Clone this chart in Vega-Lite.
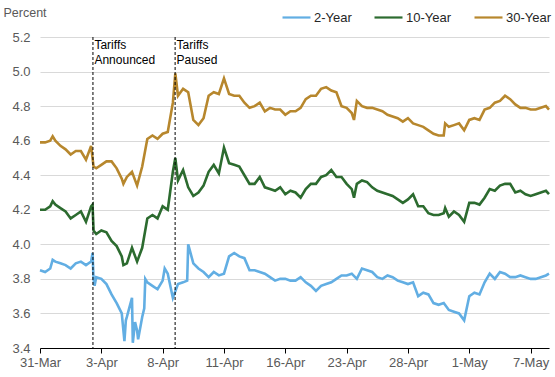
{
  "$schema": "https://vega.github.io/schema/vega-lite/v6.json",
  "width": 509,
  "height": 311,
  "autosize": {"type": "none"},
  "padding": {"left": 40, "top": 37, "right": 6, "bottom": 29},
  "config": {
    "font": "Liberation Sans",
    "view": {"stroke": null}
  },
  "resolve": {"axis": {"x": "independent", "y": "independent"}},
  "layer": [
    {
      "data": {"values": [
        {"s":"2-Year","t":0,"v":3.85},{"s":"2-Year","t":0.25,"v":3.84},{"s":"2-Year","t":0.5,"v":3.86},{"s":"2-Year","t":0.62,"v":3.91},{"s":"2-Year","t":0.75,"v":3.90},{"s":"2-Year","t":1,"v":3.89},{"s":"2-Year","t":1.25,"v":3.88},{"s":"2-Year","t":1.5,"v":3.86},{"s":"2-Year","t":1.75,"v":3.89},{"s":"2-Year","t":2,"v":3.90},{"s":"2-Year","t":2.25,"v":3.88},{"s":"2-Year","t":2.5,"v":3.90},{"s":"2-Year","t":2.57,"v":3.95},{"s":"2-Year","t":2.62,"v":3.80},{"s":"2-Year","t":2.67,"v":3.76},{"s":"2-Year","t":2.75,"v":3.81},{"s":"2-Year","t":3,"v":3.80},{"s":"2-Year","t":3.25,"v":3.77},{"s":"2-Year","t":3.5,"v":3.71},{"s":"2-Year","t":3.75,"v":3.66},{"s":"2-Year","t":4,"v":3.60},{"s":"2-Year","t":4.13,"v":3.44},{"s":"2-Year","t":4.2,"v":3.56},{"s":"2-Year","t":4.25,"v":3.58},{"s":"2-Year","t":4.5,"v":3.69},{"s":"2-Year","t":4.54,"v":3.43},{"s":"2-Year","t":4.65,"v":3.55},{"s":"2-Year","t":4.75,"v":3.50},{"s":"2-Year","t":4.8,"v":3.45},{"s":"2-Year","t":5,"v":3.58},{"s":"2-Year","t":5.1,"v":3.63},{"s":"2-Year","t":5.15,"v":3.80},{"s":"2-Year","t":5.25,"v":3.78},{"s":"2-Year","t":5.5,"v":3.76},{"s":"2-Year","t":5.75,"v":3.74},{"s":"2-Year","t":6,"v":3.79},{"s":"2-Year","t":6.1,"v":3.86},{"s":"2-Year","t":6.25,"v":3.83},{"s":"2-Year","t":6.5,"v":3.69},{"s":"2-Year","t":6.75,"v":3.77},{"s":"2-Year","t":7,"v":3.78},{"s":"2-Year","t":7.2,"v":3.79},{"s":"2-Year","t":7.25,"v":4.00},{"s":"2-Year","t":7.5,"v":3.89},{"s":"2-Year","t":7.75,"v":3.86},{"s":"2-Year","t":8,"v":3.84},{"s":"2-Year","t":8.25,"v":3.81},{"s":"2-Year","t":8.5,"v":3.84},{"s":"2-Year","t":8.75,"v":3.82},{"s":"2-Year","t":9,"v":3.83},{"s":"2-Year","t":9.25,"v":3.93},{"s":"2-Year","t":9.5,"v":3.95},{"s":"2-Year","t":9.75,"v":3.93},{"s":"2-Year","t":10,"v":3.92},{"s":"2-Year","t":10.25,"v":3.85},{"s":"2-Year","t":10.5,"v":3.85},{"s":"2-Year","t":10.75,"v":3.84},{"s":"2-Year","t":11,"v":3.83},{"s":"2-Year","t":11.25,"v":3.81},{"s":"2-Year","t":11.5,"v":3.79},{"s":"2-Year","t":11.75,"v":3.80},{"s":"2-Year","t":12,"v":3.80},{"s":"2-Year","t":12.25,"v":3.79},{"s":"2-Year","t":12.5,"v":3.79},{"s":"2-Year","t":12.75,"v":3.81},{"s":"2-Year","t":13,"v":3.78},{"s":"2-Year","t":13.25,"v":3.76},{"s":"2-Year","t":13.5,"v":3.73},{"s":"2-Year","t":13.75,"v":3.76},{"s":"2-Year","t":14,"v":3.77},{"s":"2-Year","t":14.25,"v":3.78},{"s":"2-Year","t":14.5,"v":3.80},{"s":"2-Year","t":14.75,"v":3.82},{"s":"2-Year","t":15,"v":3.82},{"s":"2-Year","t":15.25,"v":3.83},{"s":"2-Year","t":15.5,"v":3.80},{"s":"2-Year","t":15.75,"v":3.86},{"s":"2-Year","t":16,"v":3.85},{"s":"2-Year","t":16.25,"v":3.84},{"s":"2-Year","t":16.5,"v":3.81},{"s":"2-Year","t":16.75,"v":3.80},{"s":"2-Year","t":17,"v":3.82},{"s":"2-Year","t":17.25,"v":3.81},{"s":"2-Year","t":17.5,"v":3.79},{"s":"2-Year","t":17.75,"v":3.78},{"s":"2-Year","t":18,"v":3.77},{"s":"2-Year","t":18.25,"v":3.78},{"s":"2-Year","t":18.5,"v":3.70},{"s":"2-Year","t":18.75,"v":3.72},{"s":"2-Year","t":19,"v":3.71},{"s":"2-Year","t":19.25,"v":3.66},{"s":"2-Year","t":19.5,"v":3.65},{"s":"2-Year","t":19.75,"v":3.66},{"s":"2-Year","t":20,"v":3.62},{"s":"2-Year","t":20.25,"v":3.61},{"s":"2-Year","t":20.5,"v":3.60},{"s":"2-Year","t":20.75,"v":3.56},{"s":"2-Year","t":21,"v":3.70},{"s":"2-Year","t":21.25,"v":3.72},{"s":"2-Year","t":21.5,"v":3.71},{"s":"2-Year","t":21.75,"v":3.78},{"s":"2-Year","t":22,"v":3.83},{"s":"2-Year","t":22.25,"v":3.80},{"s":"2-Year","t":22.5,"v":3.84},{"s":"2-Year","t":22.75,"v":3.83},{"s":"2-Year","t":23,"v":3.81},{"s":"2-Year","t":23.25,"v":3.81},{"s":"2-Year","t":23.5,"v":3.82},{"s":"2-Year","t":23.75,"v":3.81},{"s":"2-Year","t":24,"v":3.80},{"s":"2-Year","t":24.25,"v":3.80},{"s":"2-Year","t":24.5,"v":3.81},{"s":"2-Year","t":24.75,"v":3.82},{"s":"2-Year","t":24.9,"v":3.83},

        {"s":"10-Year","t":0,"v":4.20},{"s":"10-Year","t":0.25,"v":4.20},{"s":"10-Year","t":0.5,"v":4.22},{"s":"10-Year","t":0.62,"v":4.25},{"s":"10-Year","t":0.75,"v":4.23},{"s":"10-Year","t":1,"v":4.21},{"s":"10-Year","t":1.25,"v":4.19},{"s":"10-Year","t":1.5,"v":4.15},{"s":"10-Year","t":1.75,"v":4.17},{"s":"10-Year","t":2,"v":4.19},{"s":"10-Year","t":2.25,"v":4.13},{"s":"10-Year","t":2.5,"v":4.22},{"s":"10-Year","t":2.57,"v":4.23},{"s":"10-Year","t":2.62,"v":4.08},{"s":"10-Year","t":2.75,"v":4.06},{"s":"10-Year","t":3,"v":4.08},{"s":"10-Year","t":3.25,"v":4.07},{"s":"10-Year","t":3.5,"v":4.02},{"s":"10-Year","t":3.75,"v":3.99},{"s":"10-Year","t":4,"v":3.93},{"s":"10-Year","t":4.08,"v":3.88},{"s":"10-Year","t":4.25,"v":3.89},{"s":"10-Year","t":4.5,"v":3.98},{"s":"10-Year","t":4.75,"v":3.90},{"s":"10-Year","t":5,"v":3.98},{"s":"10-Year","t":5.25,"v":4.15},{"s":"10-Year","t":5.5,"v":4.17},{"s":"10-Year","t":5.75,"v":4.15},{"s":"10-Year","t":6,"v":4.22},{"s":"10-Year","t":6.25,"v":4.20},{"s":"10-Year","t":6.5,"v":4.42},{"s":"10-Year","t":6.62,"v":4.50},{"s":"10-Year","t":6.75,"v":4.37},{"s":"10-Year","t":7,"v":4.43},{"s":"10-Year","t":7.25,"v":4.33},{"s":"10-Year","t":7.5,"v":4.28},{"s":"10-Year","t":7.75,"v":4.30},{"s":"10-Year","t":8,"v":4.34},{"s":"10-Year","t":8.25,"v":4.42},{"s":"10-Year","t":8.5,"v":4.46},{"s":"10-Year","t":8.75,"v":4.41},{"s":"10-Year","t":9,"v":4.56},{"s":"10-Year","t":9.25,"v":4.47},{"s":"10-Year","t":9.5,"v":4.46},{"s":"10-Year","t":9.75,"v":4.45},{"s":"10-Year","t":10,"v":4.40},{"s":"10-Year","t":10.25,"v":4.35},{"s":"10-Year","t":10.5,"v":4.35},{"s":"10-Year","t":10.75,"v":4.39},{"s":"10-Year","t":11,"v":4.33},{"s":"10-Year","t":11.25,"v":4.32},{"s":"10-Year","t":11.5,"v":4.31},{"s":"10-Year","t":11.75,"v":4.33},{"s":"10-Year","t":12,"v":4.29},{"s":"10-Year","t":12.25,"v":4.31},{"s":"10-Year","t":12.5,"v":4.30},{"s":"10-Year","t":12.75,"v":4.27},{"s":"10-Year","t":13,"v":4.32},{"s":"10-Year","t":13.25,"v":4.35},{"s":"10-Year","t":13.5,"v":4.35},{"s":"10-Year","t":13.75,"v":4.39},{"s":"10-Year","t":14,"v":4.40},{"s":"10-Year","t":14.25,"v":4.43},{"s":"10-Year","t":14.5,"v":4.39},{"s":"10-Year","t":14.75,"v":4.39},{"s":"10-Year","t":15,"v":4.35},{"s":"10-Year","t":15.25,"v":4.32},{"s":"10-Year","t":15.36,"v":4.27},{"s":"10-Year","t":15.5,"v":4.35},{"s":"10-Year","t":15.75,"v":4.37},{"s":"10-Year","t":16,"v":4.36},{"s":"10-Year","t":16.25,"v":4.33},{"s":"10-Year","t":16.5,"v":4.31},{"s":"10-Year","t":16.75,"v":4.30},{"s":"10-Year","t":17,"v":4.29},{"s":"10-Year","t":17.25,"v":4.28},{"s":"10-Year","t":17.5,"v":4.26},{"s":"10-Year","t":17.75,"v":4.24},{"s":"10-Year","t":18,"v":4.26},{"s":"10-Year","t":18.25,"v":4.29},{"s":"10-Year","t":18.5,"v":4.22},{"s":"10-Year","t":18.75,"v":4.22},{"s":"10-Year","t":19,"v":4.18},{"s":"10-Year","t":19.25,"v":4.17},{"s":"10-Year","t":19.5,"v":4.17},{"s":"10-Year","t":19.75,"v":4.18},{"s":"10-Year","t":19.82,"v":4.21},{"s":"10-Year","t":20,"v":4.16},{"s":"10-Year","t":20.25,"v":4.19},{"s":"10-Year","t":20.5,"v":4.17},{"s":"10-Year","t":20.75,"v":4.13},{"s":"10-Year","t":21,"v":4.24},{"s":"10-Year","t":21.25,"v":4.24},{"s":"10-Year","t":21.5,"v":4.23},{"s":"10-Year","t":21.75,"v":4.27},{"s":"10-Year","t":22,"v":4.32},{"s":"10-Year","t":22.25,"v":4.31},{"s":"10-Year","t":22.5,"v":4.34},{"s":"10-Year","t":22.75,"v":4.35},{"s":"10-Year","t":23,"v":4.35},{"s":"10-Year","t":23.25,"v":4.30},{"s":"10-Year","t":23.5,"v":4.31},{"s":"10-Year","t":23.75,"v":4.29},{"s":"10-Year","t":24,"v":4.28},{"s":"10-Year","t":24.25,"v":4.29},{"s":"10-Year","t":24.5,"v":4.30},{"s":"10-Year","t":24.75,"v":4.31},{"s":"10-Year","t":24.9,"v":4.29},

        {"s":"30-Year","t":0,"v":4.59},{"s":"30-Year","t":0.25,"v":4.59},{"s":"30-Year","t":0.5,"v":4.60},{"s":"30-Year","t":0.62,"v":4.625},{"s":"30-Year","t":0.75,"v":4.60},{"s":"30-Year","t":1,"v":4.57},{"s":"30-Year","t":1.25,"v":4.55},{"s":"30-Year","t":1.5,"v":4.52},{"s":"30-Year","t":1.75,"v":4.54},{"s":"30-Year","t":2,"v":4.54},{"s":"30-Year","t":2.25,"v":4.49},{"s":"30-Year","t":2.5,"v":4.57},{"s":"30-Year","t":2.62,"v":4.45},{"s":"30-Year","t":2.75,"v":4.44},{"s":"30-Year","t":3,"v":4.46},{"s":"30-Year","t":3.25,"v":4.48},{"s":"30-Year","t":3.5,"v":4.48},{"s":"30-Year","t":3.75,"v":4.44},{"s":"30-Year","t":4,"v":4.38},{"s":"30-Year","t":4.08,"v":4.35},{"s":"30-Year","t":4.25,"v":4.39},{"s":"30-Year","t":4.5,"v":4.42},{"s":"30-Year","t":4.75,"v":4.34},{"s":"30-Year","t":5,"v":4.45},{"s":"30-Year","t":5.25,"v":4.61},{"s":"30-Year","t":5.5,"v":4.63},{"s":"30-Year","t":5.75,"v":4.61},{"s":"30-Year","t":6,"v":4.64},{"s":"30-Year","t":6.25,"v":4.65},{"s":"30-Year","t":6.5,"v":4.82},{"s":"30-Year","t":6.62,"v":4.99},{"s":"30-Year","t":6.75,"v":4.86},{"s":"30-Year","t":7,"v":4.90},{"s":"30-Year","t":7.25,"v":4.88},{"s":"30-Year","t":7.5,"v":4.72},{"s":"30-Year","t":7.75,"v":4.69},{"s":"30-Year","t":8,"v":4.73},{"s":"30-Year","t":8.25,"v":4.86},{"s":"30-Year","t":8.5,"v":4.88},{"s":"30-Year","t":8.75,"v":4.87},{"s":"30-Year","t":9,"v":4.96},{"s":"30-Year","t":9.25,"v":4.87},{"s":"30-Year","t":9.5,"v":4.86},{"s":"30-Year","t":9.75,"v":4.86},{"s":"30-Year","t":10,"v":4.82},{"s":"30-Year","t":10.25,"v":4.79},{"s":"30-Year","t":10.5,"v":4.80},{"s":"30-Year","t":10.75,"v":4.82},{"s":"30-Year","t":11,"v":4.77},{"s":"30-Year","t":11.25,"v":4.79},{"s":"30-Year","t":11.5,"v":4.78},{"s":"30-Year","t":11.75,"v":4.78},{"s":"30-Year","t":12,"v":4.75},{"s":"30-Year","t":12.25,"v":4.77},{"s":"30-Year","t":12.5,"v":4.77},{"s":"30-Year","t":12.75,"v":4.79},{"s":"30-Year","t":13,"v":4.84},{"s":"30-Year","t":13.25,"v":4.86},{"s":"30-Year","t":13.5,"v":4.86},{"s":"30-Year","t":13.75,"v":4.90},{"s":"30-Year","t":14,"v":4.91},{"s":"30-Year","t":14.25,"v":4.89},{"s":"30-Year","t":14.5,"v":4.88},{"s":"30-Year","t":14.75,"v":4.80},{"s":"30-Year","t":15,"v":4.79},{"s":"30-Year","t":15.25,"v":4.76},{"s":"30-Year","t":15.36,"v":4.72},{"s":"30-Year","t":15.5,"v":4.83},{"s":"30-Year","t":15.75,"v":4.80},{"s":"30-Year","t":16,"v":4.79},{"s":"30-Year","t":16.25,"v":4.79},{"s":"30-Year","t":16.5,"v":4.78},{"s":"30-Year","t":16.75,"v":4.77},{"s":"30-Year","t":17,"v":4.75},{"s":"30-Year","t":17.25,"v":4.74},{"s":"30-Year","t":17.5,"v":4.73},{"s":"30-Year","t":17.75,"v":4.71},{"s":"30-Year","t":18,"v":4.73},{"s":"30-Year","t":18.25,"v":4.70},{"s":"30-Year","t":18.5,"v":4.69},{"s":"30-Year","t":18.75,"v":4.68},{"s":"30-Year","t":19,"v":4.66},{"s":"30-Year","t":19.25,"v":4.64},{"s":"30-Year","t":19.5,"v":4.63},{"s":"30-Year","t":19.75,"v":4.63},{"s":"30-Year","t":19.82,"v":4.70},{"s":"30-Year","t":20,"v":4.68},{"s":"30-Year","t":20.25,"v":4.69},{"s":"30-Year","t":20.5,"v":4.70},{"s":"30-Year","t":20.75,"v":4.66},{"s":"30-Year","t":21,"v":4.72},{"s":"30-Year","t":21.25,"v":4.73},{"s":"30-Year","t":21.5,"v":4.72},{"s":"30-Year","t":21.75,"v":4.78},{"s":"30-Year","t":22,"v":4.79},{"s":"30-Year","t":22.25,"v":4.82},{"s":"30-Year","t":22.5,"v":4.83},{"s":"30-Year","t":22.75,"v":4.86},{"s":"30-Year","t":23,"v":4.84},{"s":"30-Year","t":23.25,"v":4.81},{"s":"30-Year","t":23.5,"v":4.79},{"s":"30-Year","t":23.75,"v":4.79},{"s":"30-Year","t":24,"v":4.78},{"s":"30-Year","t":24.25,"v":4.78},{"s":"30-Year","t":24.5,"v":4.79},{"s":"30-Year","t":24.75,"v":4.80},{"s":"30-Year","t":24.9,"v":4.78}
      ]},
      "mark": {"type": "line", "strokeWidth": 2.6},
      "encoding": {
        "x": {
          "field": "t", "type": "quantitative",
          "scale": {"domain": [0, 24.9], "nice": false, "zero": false},
          "axis": {
            "title": null,
            "values": [0, 3, 6, 9, 12, 15, 18, 21, 24],
            "labelExpr": "['31-Mar','3-Apr','8-Apr','11-Apr','16-Apr','23-Apr','28-Apr','1-May','7-May'][round(datum.value/3)]",
            "grid": false,
            "domainColor": "#000000",
            "tickColor": "#000000",
            "tickSize": 5,
            "labelColor": "#595959",
            "labelFontSize": 13,
            "labelPadding": 3,
            "labelFlush": false,
            "labelOverlap": false
          }
        },
        "y": {
          "field": "v", "type": "quantitative",
          "scale": {"domain": [3.4, 5.2], "nice": false, "zero": false},
          "axis": {
            "title": "Percent",
            "titleAngle": 0,
            "titleX": -37,
            "titleY": -25,
            "titleAlign": "left",
            "titleBaseline": "middle",
            "titleFontWeight": "normal",
            "titleFontSize": 12.5,
            "titleColor": "#595959",
            "values": [3.4, 3.6, 3.8, 4.0, 4.2, 4.4, 4.6, 4.8, 5.0, 5.2],
            "format": ".1f",
            "domain": false,
            "ticks": false,
            "grid": true,
            "gridColor": "#d9d9d9",
            "labelColor": "#595959",
            "labelFontSize": 13,
            "labelPadding": 10,
            "labelOverlap": false
          }
        },
        "color": {
          "field": "s", "type": "nominal",
          "scale": {"domain": ["2-Year", "10-Year", "30-Year"], "range": ["#62AEE3", "#2C6B2F", "#B7872D"]},
          "legend": {
            "title": null,
            "orient": "none",
            "direction": "horizontal",
            "legendX": 241,
            "legendY": -35,
            "symbolType": "stroke",
            "symbolSize": 784,
            "symbolStrokeWidth": 2.2,
            "labelFontSize": 13,
            "labelColor": "#262626",
            "labelOffset": 2,
            "columnPadding": 18,
            "gridAlign": "none",
            "padding": 0
          }
        }
      }
    },
    {
      "data": {"values": [
        {"t": 2.59, "label": "Tariffs Announced"},
        {"t": 6.61, "label": "Tariffs Paused"}
      ]},
      "layer": [
        {
          "mark": {"type": "rule", "color": "#000000", "strokeWidth": 1, "strokeDash": [3, 2]},
          "encoding": {
            "x": {"field": "t", "type": "quantitative", "axis": null},
            "y": {"datum": 5.2, "type": "quantitative", "axis": null},
            "y2": {"datum": 3.4}
          }
        },
        {
          "mark": {"type": "text", "align": "left", "baseline": "top", "dx": 1.5, "dy": 3, "fontSize": 12, "color": "#000000", "lineBreak": " ", "lineHeight": 14.5},
          "encoding": {
            "x": {"field": "t", "type": "quantitative", "axis": null},
            "y": {"datum": 5.2, "type": "quantitative", "axis": null},
            "text": {"field": "label"}
          }
        }
      ]
    }
  ]
}
